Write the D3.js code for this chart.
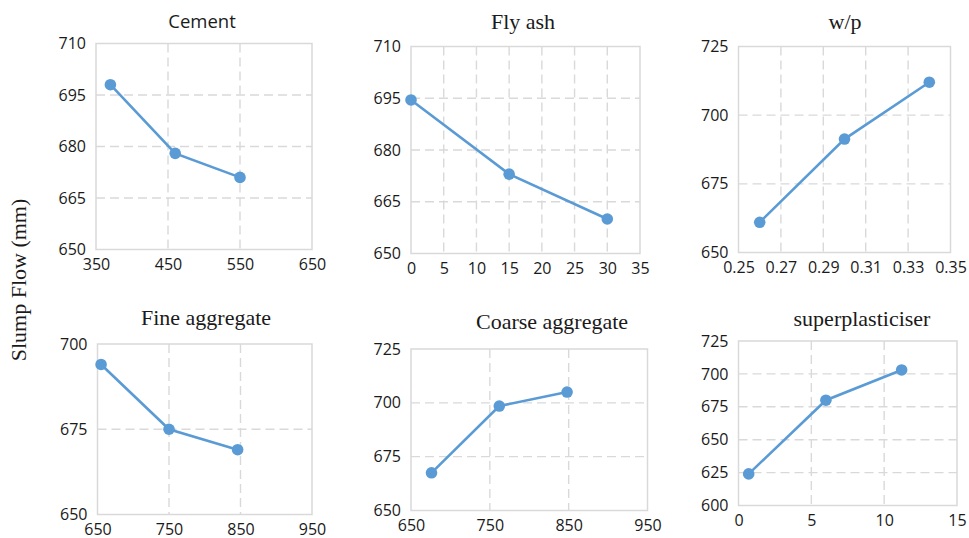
<!DOCTYPE html>
<html>
<head>
<meta charset="utf-8">
<script src="https://cdn.jsdelivr.net/npm/d3@7/dist/d3.min.js"></script>
<style>
  html, body { margin: 0; padding: 0; background: #fff; }
  svg { display: block; }
</style>
</head>
<body>
<svg id="chart" width="969" height="538"></svg>
<script>
// Slump flow response to each mix ingredient
const panelTitles = ["Cement", "Fly ash", "w/p", "Fine aggregate", "Coarse aggregate", "superplasticiser"];

const cementX = [370, 460, 550];
const cementY = [698, 678, 671];

const flyAshX = [0, 15, 30];
const flyAshY = [694.5, 673, 660];

const wpX = [0.26, 0.30, 0.34];
const wpY = [661, 691.3, 712];

const fineAggX = [655, 750, 846];
const fineAggY = [694, 675, 669];

const coarseAggX = [676, 762, 848];
const coarseAggY = [667.5, 698.5, 705];

const spX = [0.7, 6, 11.2];
const spY = [624, 680, 703];

// Axis ticks for each panel
const xTicks = [
  [350, 450, 550, 650],
  [0, 5, 10, 15, 20, 25, 30, 35],
  [0.25, 0.27, 0.29, 0.31, 0.33, 0.35],
  [650, 750, 850, 950],
  [650, 750, 850, 950],
  [0, 5, 10, 15]
];
const yTicks = [
  [650, 665, 680, 695, 710],
  [650, 665, 680, 695, 710],
  [650, 675, 700, 725],
  [650, 675, 700],
  [650, 675, 700, 725],
  [600, 625, 650, 675, 700, 725]
];

const yAxisLabel = "Slump Flow (mm)";

const seriesX = [cementX, flyAshX, wpX, fineAggX, coarseAggX, spX];
const seriesY = [cementY, flyAshY, wpY, fineAggY, coarseAggY, spY];

// Plot frames: [left, right, top, bottom], title placement and font
const frames = [
  [96, 312, 43.5, 249.5],
  [411, 640, 46.5, 253.5],
  [738.5, 950.5, 46.5, 252.5],
  [97.5, 312, 344, 514.5],
  [411, 647.5, 349, 510.5],
  [738.5, 957, 341, 505.5]
];
const titlePos = [[202, 28], [523, 29], [845, 29], [206, 325], [552, 329], [862, 326]];
const titleSerif = [false, true, true, true, true, true];

const fmt = [d3.format("d"), d3.format("d"), d3.format(".2f"), d3.format("d"), d3.format("d"), d3.format("d")];

const svg = d3.select("#chart");
const gridColor = "#d9d9d9";
const lineColor = "#5b9bd5";

frames.forEach((f, i) => {
  const [l, r, t, b] = f;
  const xt = xTicks[i], yt = yTicks[i];
  const x = d3.scaleLinear().domain([xt[0], xt[xt.length - 1]]).range([l, r]);
  const y = d3.scaleLinear().domain([yt[0], yt[yt.length - 1]]).range([b, t]);
  const g = svg.append("g");

  // dashed gridlines (interior only)
  g.selectAll(".vg").data(xt.slice(1, -1)).join("line")
    .attr("x1", d => x(d)).attr("x2", d => x(d))
    .attr("y1", t).attr("y2", b)
    .attr("stroke", gridColor).attr("stroke-width", 1.4)
    .attr("stroke-dasharray", "9,5");
  g.selectAll(".hg").data(yt.slice(1, -1)).join("line")
    .attr("x1", l).attr("x2", r)
    .attr("y1", d => y(d)).attr("y2", d => y(d))
    .attr("stroke", gridColor).attr("stroke-width", 1.4)
    .attr("stroke-dasharray", "9,5");

  // plot frame
  g.append("rect")
    .attr("x", l).attr("y", t).attr("width", r - l).attr("height", b - t)
    .attr("fill", "none").attr("stroke", gridColor).attr("stroke-width", 1.5);

  // axes (labels only, no tick marks)
  const xAxis = d3.axisBottom(x).tickValues(xt).tickSize(0).tickPadding(9).tickFormat(fmt[i]);
  const yAxis = d3.axisLeft(y).tickValues(yt).tickSize(0).tickPadding(10).tickFormat(d3.format("d"));
  const gx = g.append("g").attr("transform", `translate(0,${b})`).call(xAxis);
  const gy = g.append("g").attr("transform", `translate(${l},0)`).call(yAxis);
  [gx, gy].forEach(a => {
    a.select(".domain").remove();
    a.selectAll("text")
      .attr("font-family", "'Open Sans', sans-serif")
      .attr("font-size", 16).attr("fill", "#1a1a1a");
  });

  // title
  g.append("text")
    .attr("x", titlePos[i][0]).attr("y", titlePos[i][1])
    .attr("text-anchor", "middle")
    .attr("font-family", titleSerif[i] ? "'Liberation Serif', 'Times New Roman', serif" : "'Open Sans', sans-serif")
    .attr("font-size", titleSerif[i] ? 22 : 18.5)
    .attr("fill", "#1a1a1a")
    .text(panelTitles[i]);

  // series
  const pts = seriesX[i].map((v, k) => [v, seriesY[i][k]]);
  g.append("path").datum(pts)
    .attr("d", d3.line().x(d => x(d[0])).y(d => y(d[1])))
    .attr("fill", "none").attr("stroke", lineColor).attr("stroke-width", 2.6);
  g.selectAll(".pt").data(pts).join("circle")
    .attr("cx", d => x(d[0])).attr("cy", d => y(d[1]))
    .attr("r", 5.8).attr("fill", lineColor);
});

// shared y-axis label
svg.append("text")
  .attr("transform", "translate(26,280) rotate(-90)")
  .attr("text-anchor", "middle")
  .attr("font-family", "'Liberation Serif', 'Times New Roman', serif")
  .attr("font-size", 22).attr("fill", "#1a1a1a")
  .text(yAxisLabel);
</script>
</body>
</html>
